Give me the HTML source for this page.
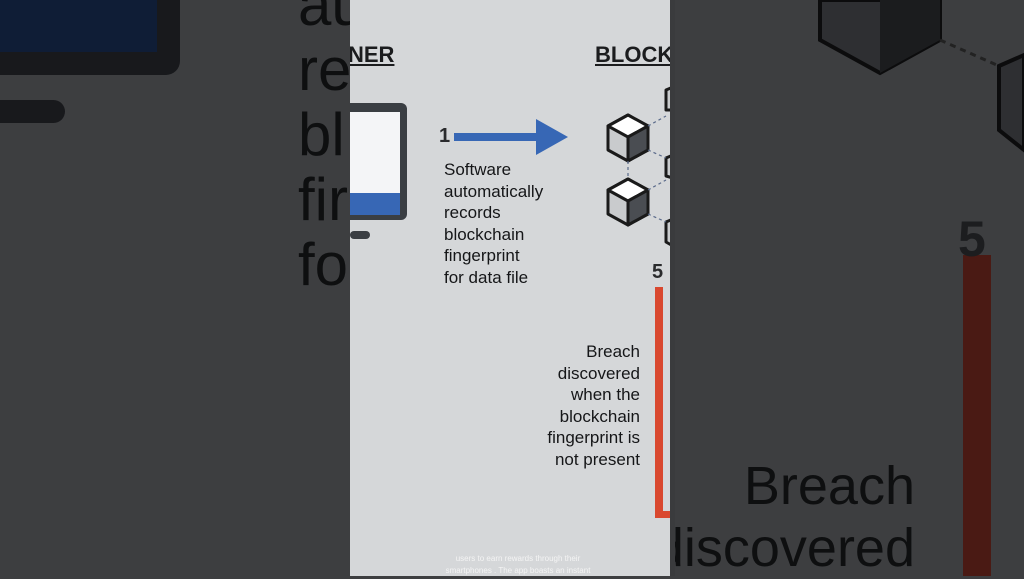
<!DOCTYPE html>
<html><head><style>
body{margin:0;width:1024px;height:576px;overflow:hidden;background:#3d3e40;position:relative;font-family:"Liberation Sans",sans-serif}
.a{position:absolute}
.big{font-size:60px;color:#0e0f10;line-height:65px}
.t{font-size:17px;color:#151618;line-height:21.5px}
</style></head><body>
<!-- left blurred side -->
<div class="a" style="left:-10px;top:-20px;width:190px;height:95px;background:#18191c;border-radius:0 0 14px 0"></div>
<div class="a" style="left:0;top:-20px;width:157px;height:72px;background:#0f1d36"></div>
<div class="a" style="left:0;top:100px;width:65px;height:23px;background:#18191c;border-radius:0 12px 12px 0"></div>
<div class="a big" style="left:298px;top:-28px">au<br>re<br>bl<br>fir<br>fo</div>
<!-- right blurred side -->
<svg class="a" style="left:674px;top:0" width="350" height="576">
<polygon points="146,0 266,0 266,40 206,73 146,40" fill="#2e2f32" stroke="#0c0c0d" stroke-width="4"/>
<polygon points="206,0 266,0 266,40 206,73" fill="#1b1c1e"/>
<line x1="266" y1="40" x2="325" y2="66" stroke="#222" stroke-width="3" stroke-dasharray="6,5"/>
<polygon points="325,66 350,55 350,150 325,130" fill="#2e2f32" stroke="#0c0c0d" stroke-width="4"/>
<rect x="289" y="255" width="28" height="321" fill="#4a1a14"/>
</svg>
<div class="a" style="left:958px;top:210px;font-size:50px;font-weight:bold;color:#1c1d1f">5</div>
<div class="a" style="left:500px;top:455px;width:415px;text-align:right;font-size:54px;color:#0e0f10;line-height:62px">Breach<br>discovered</div>
<!-- center panel -->
<div class="a" style="left:350px;top:0;width:324px;height:576px;background:#d5d7d9;overflow:hidden">
 <div class="a" style="left:-2px;top:42px;font-size:22px;font-weight:bold;color:#1b1c1e;text-decoration:underline">NER</div>
 <div class="a" style="left:245px;top:42px;font-size:22px;font-weight:bold;color:#1b1c1e;text-decoration:underline">BLOCKCHAIN</div>
 <div class="a" style="left:-10px;top:103px;width:67px;height:117px;background:#3a3e43;border-radius:6px"></div>
 <div class="a" style="left:0;top:112px;width:50px;height:81px;background:#f4f5f7"></div>
 <div class="a" style="left:0;top:193px;width:50px;height:22px;background:#3767b5"></div>
 <div class="a" style="left:0;top:231px;width:20px;height:8px;background:#3a3e43;border-radius:4px"></div>
 <div class="a" style="left:89px;top:125px;font-size:20px;font-weight:bold;color:#2a2b2d">1</div>
 <svg class="a" style="left:100px;top:115px" width="125" height="45">
  <rect x="4" y="18" width="85" height="8" fill="#3767b5"/>
  <polygon points="86,4 118,22 86,40" fill="#3767b5"/>
 </svg>
 <div class="a t" style="left:94px;top:159px">Software<br>automatically<br>records<br>blockchain<br>fingerprint<br>for data file</div>
 <svg class="a" style="left:250px;top:80px" width="74" height="180">
  <g stroke="#1a1a1a" stroke-width="3" stroke-linejoin="round">
   <polygon points="28,35 48,46 48,70 28,81 8,70 8,46" fill="#c9cbcd"/>
   <polygon points="28,35 48,46 28,57 8,46" fill="#fff"/>
   <polygon points="28,57 48,46 48,70 28,81" fill="#4a4d52"/>
   <polygon points="28,99 48,110 48,134 28,145 8,134 8,110" fill="#c9cbcd"/>
   <polygon points="28,99 48,110 28,121 8,110" fill="#fff"/>
   <polygon points="28,121 48,110 48,134 28,145" fill="#4a4d52"/>
   <polygon points="66,10 80,4 80,30 66,30" fill="#c9cbcd"/>
   <polygon points="66,78 80,72 80,100 66,96" fill="#c9cbcd"/>
   <polygon points="66,142 80,136 80,170 66,162" fill="#c9cbcd"/>
  </g>
  <g stroke="#5a6a8a" stroke-width="1.2" stroke-dasharray="3,3">
   <line x1="48" y1="46" x2="66" y2="36"/><line x1="48" y1="70" x2="66" y2="78"/>
   <line x1="48" y1="110" x2="66" y2="100"/><line x1="48" y1="134" x2="66" y2="142"/>
   <line x1="28" y1="81" x2="28" y2="99"/>
  </g>
 </svg>
 <div class="a" style="left:302px;top:261px;font-size:20px;font-weight:bold;color:#2a2b2d">5</div>
 <div class="a" style="left:305px;top:287px;width:8px;height:230px;background:#d9482f"></div>
 <div class="a" style="left:305px;top:511px;width:19px;height:7px;background:#d9482f"></div>
 <div class="a t" style="left:150px;top:341px;width:140px;text-align:right">Breach<br>discovered<br>when the<br>blockchain<br>fingerprint is<br>not present</div>
 <div class="a" style="left:0;top:553px;width:336px;text-align:center;font-size:8px;line-height:12px;color:#f4f4f4">users to earn rewards through their<br>smartphones . The app boasts an instant</div>
</div>
<div class="a" style="left:670px;top:0;width:5px;height:576px;background:#3a3b3d"></div>
</body></html>
